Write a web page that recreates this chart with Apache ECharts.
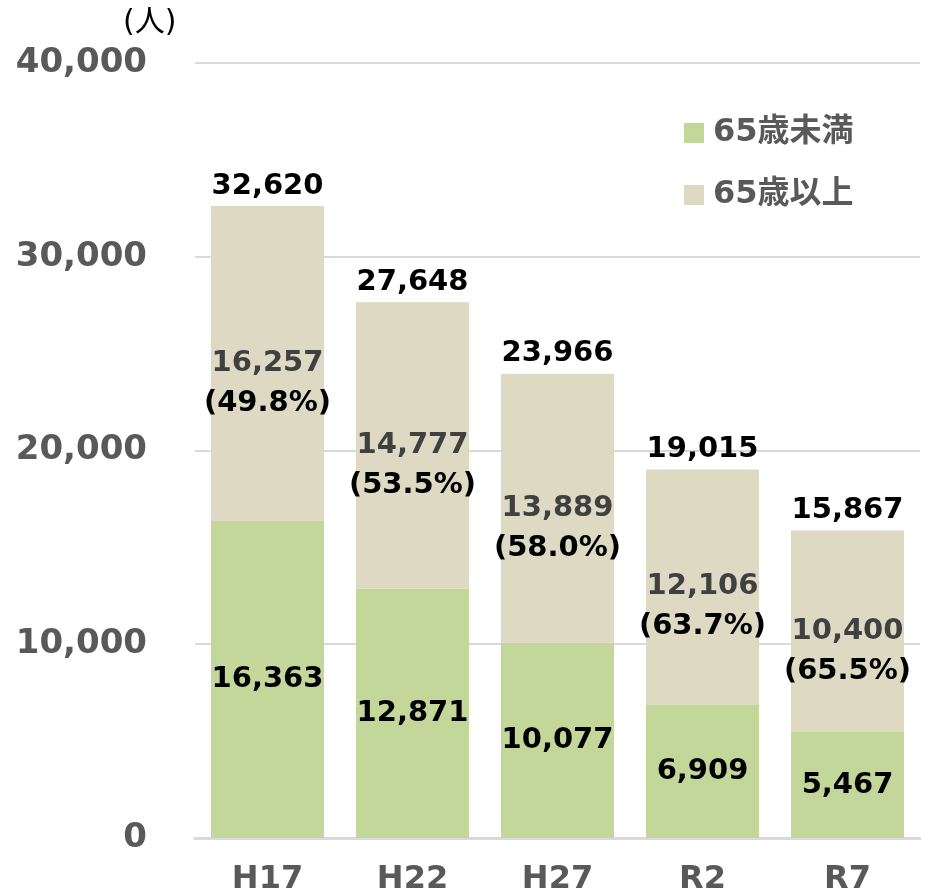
<!DOCTYPE html>
<html>
<head>
<meta charset="utf-8">
<script src="https://cdn.jsdelivr.net/npm/echarts@6/dist/echarts.min.js"></script>
<style>
  html, body { margin: 0; padding: 0; background: #fff; }
  #chart { width: 933px; height: 896px; }
</style>
</head>
<body>
<div id="chart"></div>
<script>
// 年度
const categories = ['H17', 'H22', 'H27', 'R2', 'R7']
// 65歳未満
const under65 = [16363, 12871, 10077, 6909, 5467]
// 65歳以上
const over65 = [16257, 14777, 13889, 12106, 10400]
// 合計
const totals = [32620, 27648, 23966, 19015, 15867]
// 65歳以上の割合
const over65Rate = ['49.8%', '53.5%', '58.0%', '63.7%', '65.5%']

const FONT = "'DejaVu Sans', 'Noto Sans CJK JP', sans-serif"
const fmt = v => v.toLocaleString('en-US')

const chart = echarts.init(document.getElementById('chart'))

chart.setOption({
  animation: false,
  textStyle: { fontFamily: FONT },
  // --------------   単位 -----------------
  graphic: [
    {
      type: 'text',
      left: 123,
      top: 8,
      style: { text: '(人)', font: '30px ' + FONT, fill: '#000' }
    }
  ],
  // --------------   凡例 -----------------
  legend: {
    data: ['65歳未満', '65歳以上'],
    orient: 'vertical',
    left: 679,
    top: 112,
    icon: 'rect',
    itemWidth: 20,
    itemHeight: 20,
    itemGap: 30,
    textStyle: {
      fontFamily: FONT,
      fontSize: 32,
      fontWeight: 'bold',
      color: '#595959',
      padding: [0, 0, 0, 4]
    }
  },
  grid: {
    left: 195,
    right: 13,
    top: 63,
    bottom: 55
  },
  xAxis: {
    type: 'category',
    data: categories,
    axisTick: { show: false },
    axisLine: { lineStyle: { color: '#d9d9d9', width: 3 } },
    axisLabel: {
      margin: 26,
      fontFamily: FONT,
      fontSize: 32,
      fontWeight: 'bold',
      color: '#595959'
    }
  },
  yAxis: {
    type: 'value',
    min: 0,
    max: 40000,
    interval: 10000,
    axisLine: { show: false },
    axisTick: { show: false },
    splitLine: { lineStyle: { color: '#d9d9d9', width: 2 } },
    axisLabel: {
      margin: 48,
      fontFamily: FONT,
      fontSize: 34,
      fontWeight: 'bold',
      color: '#595959',
      formatter: v => fmt(v)
    }
  },
  series: [
    {
      name: '65歳未満',
      type: 'bar',
      stack: 'total',
      barWidth: 113,
      itemStyle: { color: '#c4d79b' },
      label: {
        show: true,
        position: 'inside',
        fontFamily: FONT,
        fontSize: 29,
        fontWeight: 'bold',
        color: '#000',
        formatter: p => fmt(p.value)
      },
      data: under65
    },
    {
      name: '65歳以上',
      type: 'bar',
      stack: 'total',
      barWidth: 113,
      itemStyle: { color: '#ddd9c3' },
      label: {
        show: true,
        position: 'inside',
        offset: [0, 20],
        formatter: p => '{a|' + fmt(p.value) + '}\n{b|(' + over65Rate[p.dataIndex] + ')}',
        rich: {
          a: { fontFamily: FONT, fontSize: 29, fontWeight: 'bold', color: '#404040', lineHeight: 40 },
          b: { fontFamily: FONT, fontSize: 29, fontWeight: 'bold', color: '#000', lineHeight: 40 }
        }
      },
      data: over65
    },
    {
      // 合計ラベル
      name: '合計',
      type: 'scatter',
      symbolSize: 1,
      silent: true,
      itemStyle: { color: 'rgba(0,0,0,0)' },
      label: {
        show: true,
        position: 'top',
        distance: 5,
        fontFamily: FONT,
        fontSize: 29,
        fontWeight: 'bold',
        color: '#000',
        opacity: 1,
        formatter: p => fmt(p.value)
      },
      data: totals
    }
  ]
})
</script>
</body>
</html>
